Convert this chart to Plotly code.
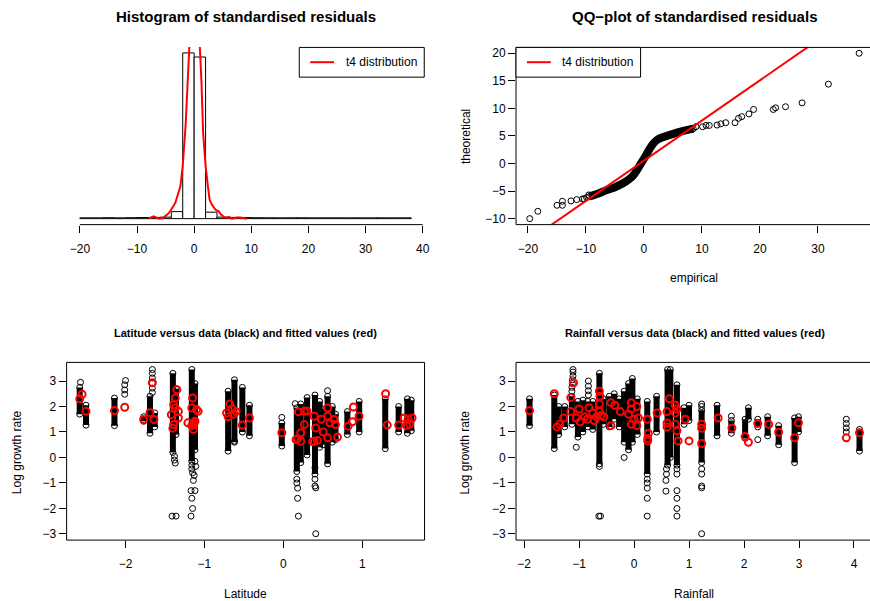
import plotly.graph_objects as go

W, H = 870, 601

# ---------------- Histogram of standardised residuals ----------------
HIST_BIN_LEFT = [-20, -18, -16, -14, -12, -10, -8, -6, -4, -2, 0, 2, 4, 6, 8,
                 10, 12, 14, 16, 18, 20, 22, 24, 26, 28, 30, 32, 34, 36]
HIST_DENSITY = [0.0012, 0.0012, 0.0014, 0.0012, 0.0014, 0.0016, 0.0018, 0.0022,
                0.0103, 0.2430, 0.2370, 0.0095, 0.0022, 0.0018, 0.0016,
                0.0014, 0.0013, 0.0012, 0.0013, 0.0013, 0.0012, 0.0012,
                0.0012, 0.0012, 0.0012, 0.0012, 0.0012, 0.0012, 0.0012]
T4_X = [-8.0, -7.1, -6.2, -5.5, -4.4, -3.3, -2.4, -2.0, -1.5, -1.05, -0.76, -0.4,
        0.0, 0.4, 1.0, 1.28, 1.57, 2.0, 2.4, 2.7, 3.1, 3.7, 4.3, 4.7, 5.2, 5.8,
        6.1, 6.6, 7.5, 8.1, 9.2]
T4_Y = [0.0, 0.0034, 0.0, 0.0005, 0.0084, 0.0230, 0.0477, 0.0775, 0.136, 0.200,
        0.254, 0.33, 0.40, 0.36, 0.254, 0.200, 0.126, 0.0775, 0.0477, 0.0280,
        0.0206, 0.0133, 0.0108, 0.0059, 0.0025, 0.0010, 0.0025, 0.0, 0.0015,
        0.0015, 0.0]

# ---------------- QQ-plot ----------------
QQ_TAIL_EMP = [-19.7, -18.3, -15.0, -14.06, -14.06, -12.57, -11.6, -10.6, -10.3,
               -9.9, -9.5,
               7.6, 8.2, 8.97, 10.1, 10.7, 11.26, 12.6, 13.26, 14.1, 15.7, 16.3,
               16.86, 18.1, 18.9, 22.3, 22.7, 24.4, 27.26, 31.8, 37.1]
QQ_TAIL_THEO = [-10.0, -8.67, -7.58, -7.58, -6.85, -6.79, -6.55, -6.42, -6.42,
                -6.18, -5.7,
                6.1, 6.3, 6.67, 6.67, 6.9, 6.9, 6.97, 7.2, 7.4, 7.4, 8.2,
                8.5, 9.0, 9.8, 9.8, 10.1, 10.3, 11.0, 14.4, 20.0]
QQ_BULK_EMP = [-9.4, -8.0, -6.5, -5.0, -3.6, -2.6, -1.8, -1.1, -0.4, 0.3, 1.0,
               1.6, 2.3, 3.2, 4.5, 6.0, 7.5, 8.5]
QQ_BULK_THEO = [-6.0, -5.5, -4.85, -4.3, -3.6, -2.9, -2.1, -1.0, 0.2, 1.4, 2.7,
                3.6, 4.3, 4.75, 5.2, 5.7, 6.1, 6.3]
QQ_LINE_EMP = [-22.1, 38.1]
QQ_LINE_THEO = [-15.6, 28.3]

# ---------------- Latitude panel ----------------
LAT_COL_X = [-2.58, -2.50, -2.14, -1.77, -1.69, -1.63, -1.40, -1.36, -1.16, -1.12,
             -0.70, -0.62, -0.52, -0.43, -0.02, 0.17, 0.22, 0.30, 0.40, 0.46,
             0.50, 0.56, 0.62, 0.66, 0.81, 0.96, 1.29, 1.46, 1.57, 1.62]
LAT_COL_LO = [1.70, 1.27, 1.25, 1.42, 0.95, 1.20, 0.20, 0.90, -0.15, 0.30,
              0.25, 0.60, 1.00, 0.85, 0.45, -0.55, -0.20, 0.10, -0.65, 0.40,
              0.50, -0.25, 0.60, 0.70, 0.90, 1.00, 0.35, 1.00, 0.95, 1.05]
LAT_COL_HI = [2.75, 2.05, 2.33, 1.60, 2.40, 1.75, 3.30, 2.70, 3.45, 2.90,
              2.60, 3.05, 2.75, 2.05, 1.35, 1.95, 2.10, 2.35, 2.45, 2.20,
              1.90, 2.40, 2.00, 1.70, 1.80, 2.20, 2.30, 2.00, 2.30, 2.25]
LAT_PT_X = [-2.57, -2.01, -2.01, -2.01, -2.00, -1.66, -1.66, -1.66, -1.66, -1.66,
            -1.66, -1.38, -1.38, -1.37, -1.41, -1.36, -1.16, -1.16, -1.15, -1.13,
            -1.14, -1.12, -1.17, -1.16, -1.15, -1.17, -1.12, -1.11, -0.62, -0.02,
            0.15, 0.17, 0.17, 0.18, 0.18, 0.19, 0.40, 0.40, 0.41, 0.41, 0.40, 0.56]
LAT_PT_Y = [2.95, 2.48, 2.65, 2.85, 3.02, 2.55, 2.72, 2.92, 3.12, 3.30,
            3.45, 0.05, -0.10, -0.22, -2.30, -2.30, -0.30, -0.45, -0.60, -0.70,
            -0.90, -1.30, -1.30, -1.60, -2.00, -2.30, -0.15, -0.35, 0.64, 1.57,
            2.11, -0.85, -1.00, -1.20, -1.60, -2.30, -0.85, -1.12, -1.19, -2.99, -0.40, 2.62]
LAT_FIT_X = [-2.58, -2.55, -2.50, -2.14, -2.01, -1.77, -1.69, -1.66, -1.64,
             -1.35, -1.37, -1.39, -1.42, -1.39, -1.33, -1.33, -1.37, -1.40,
             -1.15, -1.16, -1.10, -1.08, -1.21, -1.14, -1.12, -1.14, -1.16, -1.13,
             -0.72, -0.68, -0.65, -0.70, -0.63, -0.60, -0.52, -0.43, -0.02,
             0.19, 0.265, 0.22, 0.18, 0.22, 0.16, 0.265, 0.30,
             0.39, 0.41, 0.39, 0.43, 0.37, 0.505, 0.48,
             0.56, 0.56, 0.56, 0.59, 0.64, 0.66, 0.685,
             0.82, 0.874, 0.887, 0.958, 1.295, 1.316, 1.46, 1.53, 1.58, 1.60, 1.63, 1.56]
LAT_FIT_Y = [2.30, 2.48, 1.81, 1.84, 1.97, 1.49, 1.76, 2.93, 1.49,
             2.66, 2.33, 2.07, 1.68, 1.29, 1.81, 1.55, 1.94, 1.15,
             2.33, 1.94, 1.88, 1.81, 1.36, 1.29, 1.42, 1.10, 1.25, 1.35,
             1.75, 2.10, 1.90, 1.60, 1.70, 1.80, 1.27, 1.55, 0.97,
             1.79, 1.81, 0.97, 0.74, 0.64, 0.70, 1.29, 1.82,
             1.62, 1.16, 0.64, 0.67, 0.62, 1.00, 1.50,
             1.94, 1.62, 0.77, 1.36, 1.49, 1.29, 0.80,
             1.23, 1.40, 1.98, 1.62, 2.50, 1.27, 1.27, 1.55, 1.50, 1.30, 1.55, 1.25]

# ---------------- Rainfall panel ----------------
RAIN_COL_X = [-1.90, -1.45, -1.37, -1.26, -1.13, -1.02, -0.93, -0.84, -0.75, -0.63,
              -0.56, -0.45, -0.36, -0.27, -0.18, -0.10, -0.03, 0.06, 0.24, 0.41,
              0.61, 0.66, 0.78, 0.91, 1.00, 1.23, 1.51, 1.77, 2.02, 2.08, 2.25,
              2.43, 2.63, 2.92, 2.99, 4.10]
RAIN_COL_LO = [1.25, 0.35, 0.90, 1.20, 1.30, 0.80, 1.00, 1.20, 1.10, -0.25,
               1.30, 1.20, 1.50, 1.20, 0.60, 0.30, 0.60, 0.90, -0.65, 1.00,
               -0.30, 0.00, -0.30, 1.30, 1.45, -0.20, 0.85, 0.95, 0.75, 1.50, 1.20,
               0.85, 0.50, -0.20, 1.00, 0.25]
RAIN_COL_HI = [2.30, 2.45, 2.00, 2.00, 2.40, 2.20, 2.25, 2.20, 2.20, 3.30,
               2.30, 2.40, 2.50, 2.30, 2.60, 2.90, 3.10, 2.30, 2.20, 2.40,
               3.45, 3.45, 2.85, 1.95, 2.05, 1.85, 2.05, 1.45, 1.50, 1.95, 1.50,
               1.60, 1.25, 1.55, 1.60, 1.10]
RAIN_PT_X = [-1.13, -1.13, -1.12, -1.12, -1.11, -1.11, -1.11, -0.83, -0.83, -0.83,
             -0.83, -1.05, -0.18, -0.63, -0.64, -0.61, 0.24, 0.24, 0.24, 0.24,
             0.24, 0.59, 0.59, 0.58, 0.58, 0.78, 0.78, 0.78, 0.78, 0.78, 0.78,
             1.23, 1.23, 1.23, 1.23, 1.23, 1.23, 1.23, 1.77, 2.25, 3.86, 3.86,
             3.86, 3.86]
RAIN_PT_Y = [2.60, 2.75, 2.90, 3.05, 3.20, 3.35, 3.45, 2.45, 2.62, 2.80,
             3.00, 0.40, 0.00, -0.35, -2.30, -2.30, -0.85, -1.00, -1.20, -1.60,
             -2.30, -0.45, -0.65, -0.90, -1.32, -0.45, -0.65, -1.30, -1.60, -2.00, -2.30,
             2.10, 2.00, -0.45, -0.65, -1.12, -1.19, -2.99, 1.62, 0.70, 1.50, 1.33,
             1.16, 1.00]
RAIN_FIT_X = [-1.90, -1.45, -1.40, -1.35, -1.28, -1.15, -1.10, -1.15, -1.00, -1.05,
              -0.98, -0.90, -0.82, -0.85, -0.75, -0.72, -0.68, -0.63, -0.62, -0.63,
              -0.63, -0.60, -0.55, -0.42, -0.35, -0.25, -0.42, -0.10, -0.05, -0.05,
              0.00, 0.05, -0.05, 0.05, 0.08, 0.24, 0.26, 0.25, 0.25, 0.42, 0.60,
              0.60, 0.60, 0.64, 0.75, 0.78, 0.75, 0.75, 0.78, 0.80, 0.93, 1.00,
              1.23, 1.23, 1.23, 1.53, 1.78, 2.02, 2.08, 2.25, 2.45, 2.63, 2.92,
              2.99, 3.86, 4.10]
RAIN_FIT_Y = [1.84, 2.50, 1.20, 1.30, 1.55, 2.35, 2.93, 1.80, 1.90, 1.55,
              1.40, 1.60, 1.95, 1.50, 1.75, 1.45, 1.60, 2.60, 2.40, 2.10,
              1.80, 1.65, 1.60, 2.15, 2.05, 1.80, 1.25, 1.70, 2.15, 1.90,
              1.50, 2.00, 1.30, 1.25, 1.55, 1.50, 0.95, 0.75, 0.65, 1.75, 1.80,
              1.35, 1.20, 2.30, 2.05, 1.90, 1.75, 1.30, 1.05, 0.65, 1.50, 0.65,
              1.30, 1.15, 0.55, 1.55, 1.15, 0.82, 0.60, 1.33, 1.30, 0.99, 0.77,
              1.36, 0.77, 0.97]

RED = "#FF0000"
FONT = "Liberation Sans, Arial, sans-serif"


def px_x(p):
    return p / W


def px_y(p):
    return 1 - p / H


def col_segments(xs, los, his):
    X, Y = [], []
    for x, lo, hi in zip(xs, los, his):
        X += [x, x, None]
        Y += [lo, hi, None]
    return X, Y


fig = go.Figure()

# Histogram
fig.add_trace(go.Bar(x=[b + 1 for b in HIST_BIN_LEFT], y=HIST_DENSITY, width=2,
                     marker=dict(color="white", line=dict(color="black", width=1)),
                     xaxis="x", yaxis="y", hoverinfo="skip"))
fig.add_trace(go.Scatter(x=T4_X, y=T4_Y, mode="lines", line=dict(color=RED, width=2),
                         xaxis="x", yaxis="y", hoverinfo="skip"))

# QQ plot
fig.add_trace(go.Scatter(x=QQ_BULK_EMP, y=QQ_BULK_THEO, mode="lines",
                         line=dict(color="black", width=8, shape="spline", smoothing=0.8),
                         xaxis="x2", yaxis="y2", hoverinfo="skip"))
fig.add_trace(go.Scatter(x=QQ_BULK_EMP + QQ_TAIL_EMP, y=QQ_BULK_THEO + QQ_TAIL_THEO,
                         mode="markers",
                         marker=dict(symbol="circle-open", size=6, color="black",
                                     line=dict(width=1)),
                         xaxis="x2", yaxis="y2", hoverinfo="skip"))
fig.add_trace(go.Scatter(x=QQ_LINE_EMP, y=QQ_LINE_THEO, mode="lines",
                         line=dict(color=RED, width=2), xaxis="x2", yaxis="y2",
                         hoverinfo="skip"))

# Latitude & Rainfall
for (cx, clo, chi, ptx, pty, fx, fy, xa, ya) in [
        (LAT_COL_X, LAT_COL_LO, LAT_COL_HI, LAT_PT_X, LAT_PT_Y, LAT_FIT_X, LAT_FIT_Y, "x3", "y3"),
        (RAIN_COL_X, RAIN_COL_LO, RAIN_COL_HI, RAIN_PT_X, RAIN_PT_Y, RAIN_FIT_X, RAIN_FIT_Y, "x4", "y4")]:
    X, Y = col_segments(cx, clo, chi)
    fig.add_trace(go.Scatter(x=X, y=Y, mode="lines", line=dict(color="black", width=6),
                             xaxis=xa, yaxis=ya, hoverinfo="skip"))
    fig.add_trace(go.Scatter(x=cx + cx + ptx, y=clo + chi + pty, mode="markers",
                             marker=dict(symbol="circle-open", size=6, color="black",
                                         line=dict(width=1)),
                             xaxis=xa, yaxis=ya, hoverinfo="skip"))
    fig.add_trace(go.Scatter(x=fx, y=fy, mode="markers",
                             marker=dict(symbol="circle-open", size=7, color=RED,
                                         line=dict(width=2)),
                             xaxis=xa, yaxis=ya, hoverinfo="skip"))

LEFT = [px_x(67), px_x(427)]
RIGHT = [px_x(519), 1.0]
TOP = [px_y(225), px_y(47)]
BOT = [px_y(541), px_y(363)]

ax_common = dict(showgrid=False, zeroline=False, showline=False, ticks="outside",
                 ticklen=7, tickwidth=1, tickcolor="black",
                 tickfont=dict(size=12, color="black", family=FONT), fixedrange=True)

fig.update_layout(
    width=W, height=H, margin=dict(l=0, r=0, t=0, b=0),
    paper_bgcolor="white", plot_bgcolor="white", showlegend=False,
    font=dict(family=FONT, size=12, color="black"),
    xaxis=dict(domain=LEFT, range=[-22.32, 40.32], anchor="y",
               tickvals=[-20, -10, 0, 10, 20, 30, 40], ticklabelstandoff=6, **ax_common),
    yaxis=dict(domain=TOP, range=[-0.00878, 0.2518], anchor="x", visible=False,
               fixedrange=True),
    xaxis2=dict(domain=RIGHT, range=[-22.06, 38.11], anchor="y2",
                tickvals=[-20, -10, 0, 10, 20, 30], ticklabelstandoff=6, **ax_common),
    yaxis2=dict(domain=TOP, range=[-11.09, 21.15], anchor="x2",
                tickvals=[-10, -5, 0, 5, 10, 15, 20], **ax_common),
    xaxis3=dict(domain=LEFT, range=[-2.746, 1.788], anchor="y3",
                tickvals=[-2, -1, 0, 1], ticklabelstandoff=6, **ax_common),
    yaxis3=dict(domain=BOT, range=[-3.24, 3.73], anchor="x3",
                tickvals=[-3, -2, -1, 0, 1, 2, 3], **ax_common),
    xaxis4=dict(domain=RIGHT, range=[-2.146, 4.20], anchor="y4",
                tickvals=[-2, -1, 0, 1, 2, 3, 4], ticklabelstandoff=6, **ax_common),
    yaxis4=dict(domain=BOT, range=[-3.24, 3.73], anchor="x4",
                tickvals=[-3, -2, -1, 0, 1, 2, 3], **ax_common),
)

shapes = []
# histogram axis line (from first to last tick)
shapes.append(dict(type="line", xref="x", yref="paper", x0=-20, x1=40,
                   y0=px_y(225), y1=px_y(225), line=dict(color="black", width=1)))
# boxes
for (x0, x1, y0, y1) in [(519, 879, 47.5, 225), (67, 427, 363, 541), (519, 879, 363, 541)]:
    shapes.append(dict(type="rect", xref="paper", yref="paper",
                       x0=px_x(x0), x1=px_x(x1), y0=px_y(y1), y1=px_y(y0),
                       line=dict(color="black", width=1), fillcolor="rgba(0,0,0,0)"))
# legends
for (bx0, bx1, lx0, lx1) in [(301, 426.7, 312, 336), (519, 644.3, 530, 554)]:
    shapes.append(dict(type="rect", xref="paper", yref="paper",
                       x0=px_x(bx0), x1=px_x(bx1), y0=px_y(77.3), y1=px_y(47.5),
                       line=dict(color="black", width=1), fillcolor="white", layer="above"))
    shapes.append(dict(type="line", xref="paper", yref="paper",
                       x0=px_x(lx0), x1=px_x(lx1), y0=px_y(62.3), y1=px_y(62.3),
                       line=dict(color=RED, width=2), layer="above"))
fig.update_layout(shapes=shapes)

ann = []


def add_text(text, x, y, size=12, bold=False, angle=0, xanchor="center"):
    ann.append(dict(text=("<b>%s</b>" % text) if bold else text, xref="paper", yref="paper",
                    x=px_x(x), y=px_y(y), xanchor=xanchor, yanchor="middle",
                    showarrow=False, textangle=angle,
                    font=dict(size=size, color="black", family=FONT)))


add_text("Histogram of standardised residuals", 247, 17, size=15, bold=True)
add_text("QQ\u2212plot of standardised residuals", 699, 17, size=15, bold=True)
add_text("Latitude versus data (black) and fitted values (red)", 247, 334, size=11, bold=True)
add_text("Rainfall versus data (black) and fitted values (red)", 699, 334, size=11, bold=True)
add_text("empirical", 698, 278)
add_text("theoretical", 468, 137, angle=-90)
add_text("Latitude", 247, 595)
add_text("Rainfall", 698, 595)
add_text("Log growth rate", 17, 453, angle=-90)
add_text("Log growth rate", 468, 453, angle=-90)
add_text("t4 distribution", 346, 62.3, xanchor="left")
add_text("t4 distribution", 563, 62.3, xanchor="left")
fig.update_layout(annotations=ann)

fig.write_html("out.html", config={"displayModeBar": False, "staticPlot": True},
               post_script="document.body.style.margin='0';document.body.style.overflow='hidden';")
